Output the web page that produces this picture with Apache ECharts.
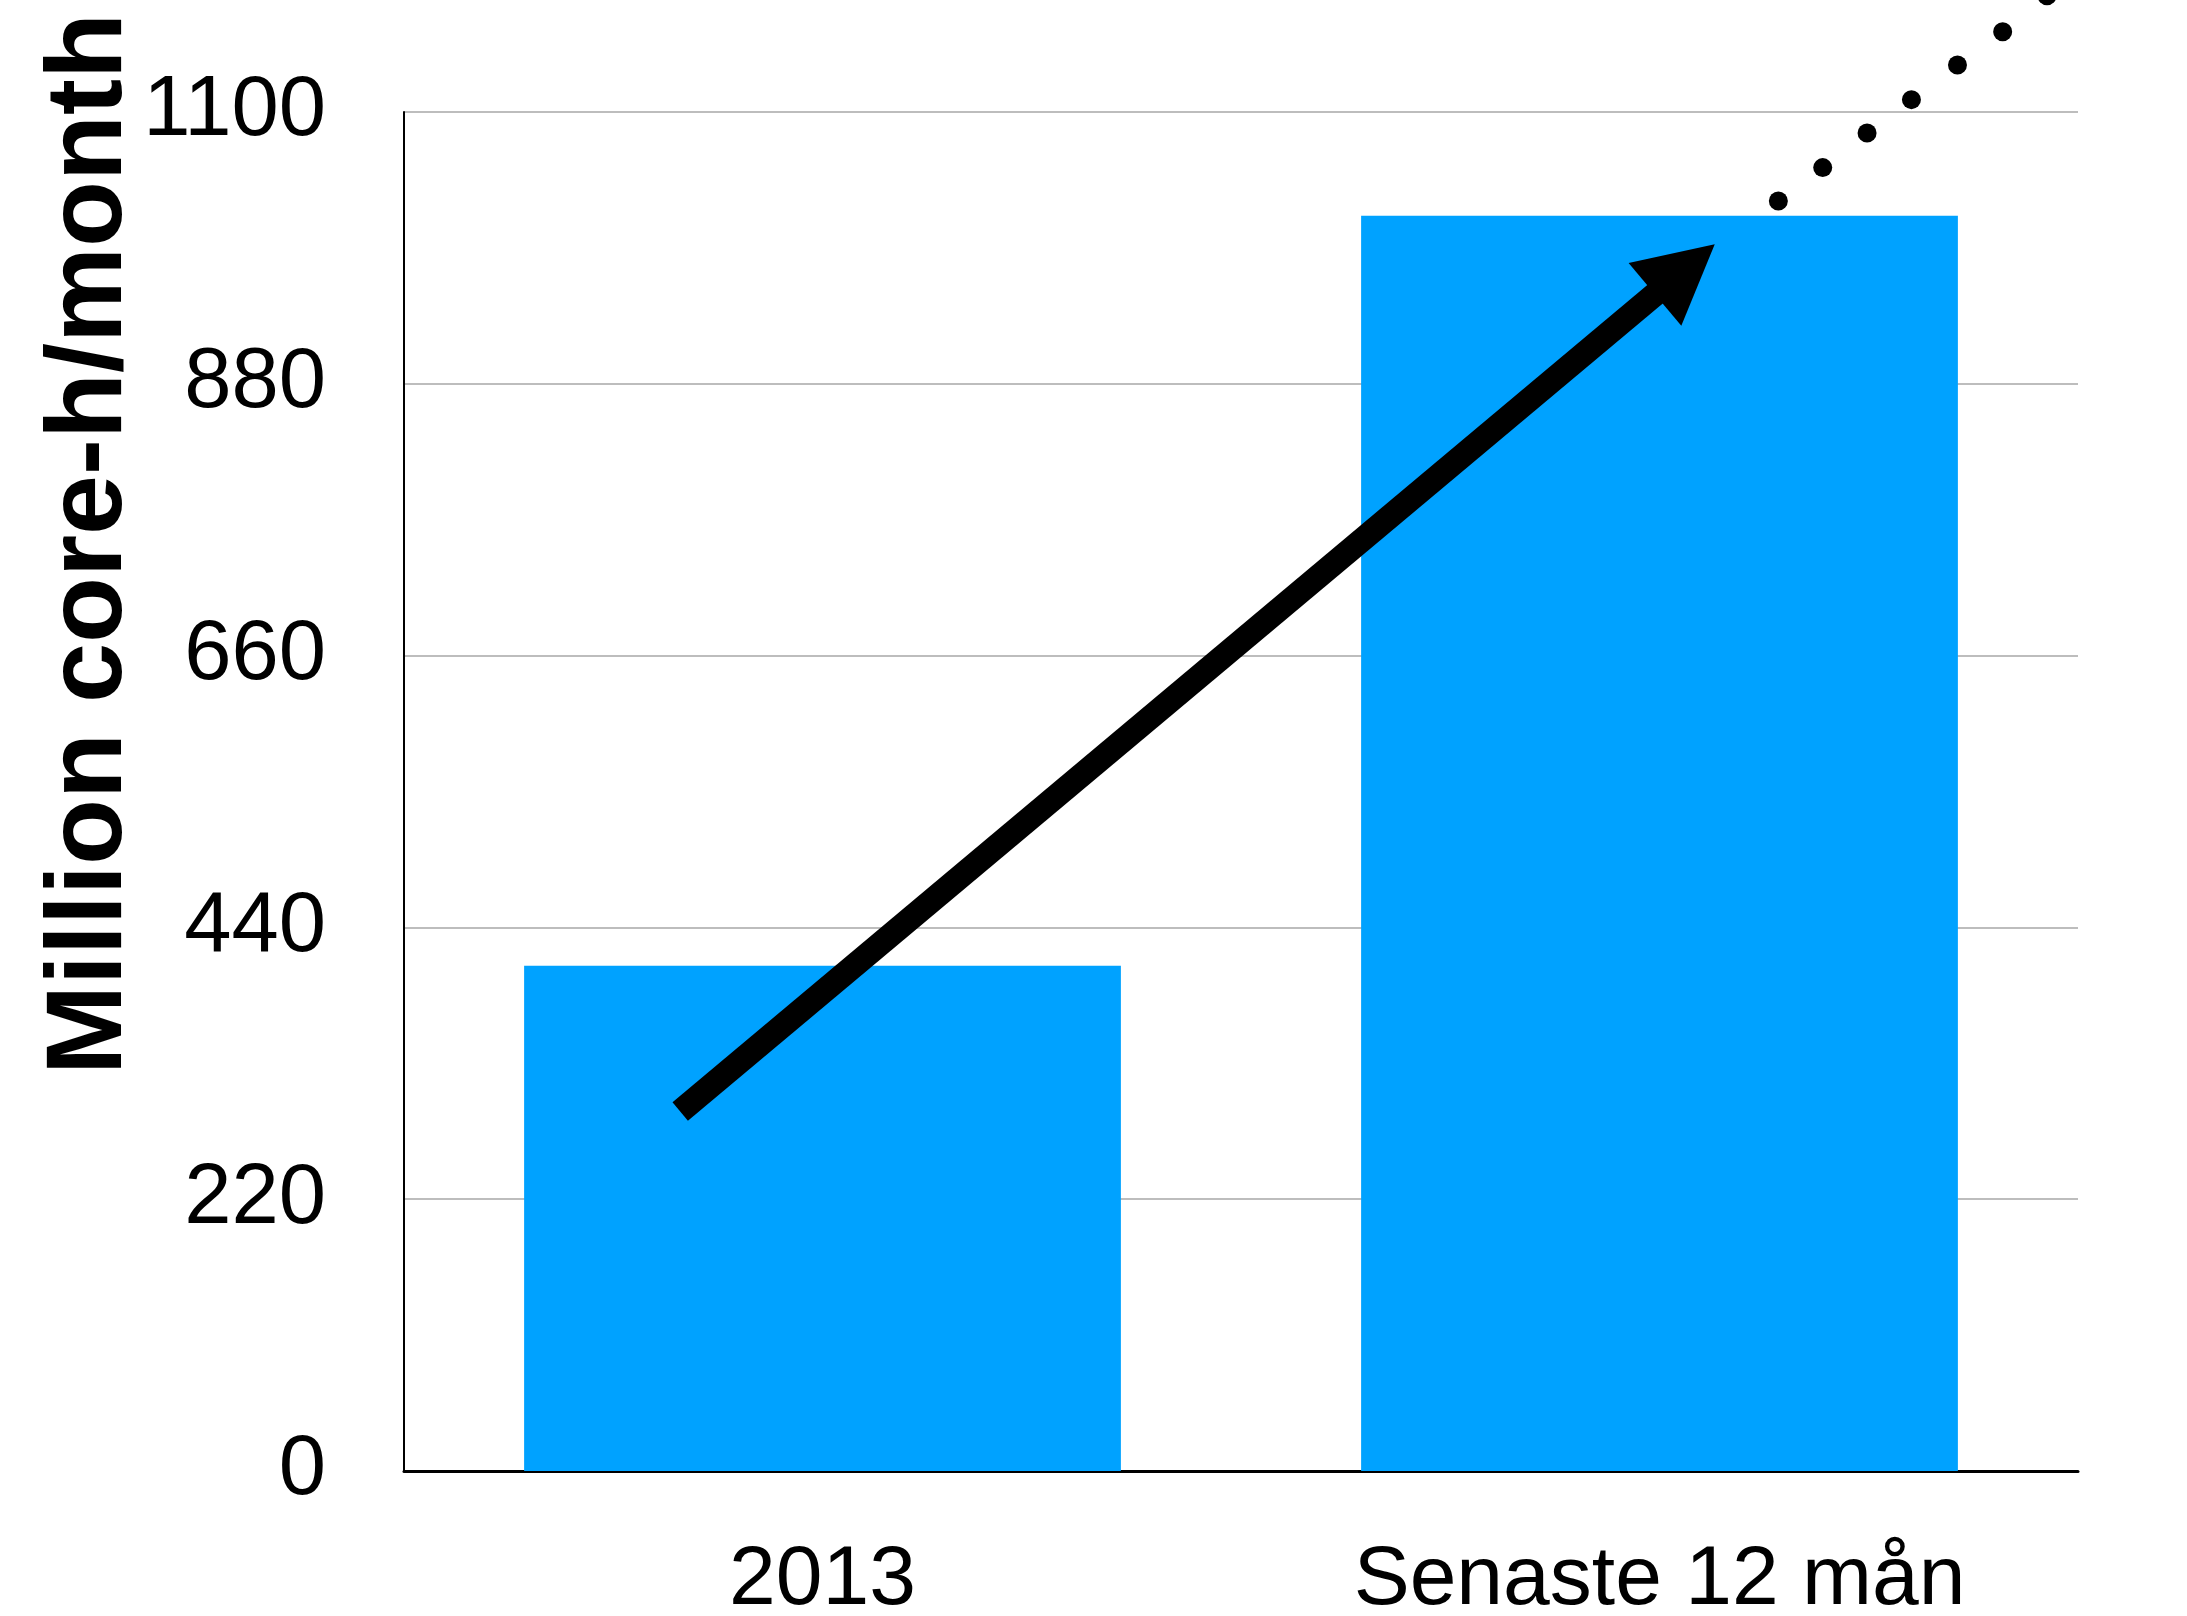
<!DOCTYPE html>
<html>
<head>
<meta charset="utf-8">
<script src="https://cdn.jsdelivr.net/npm/echarts@6/dist/echarts.min.js"></script>
<style>
    html, body { margin: 0; padding: 0; background: #fff; }
    #myChart { width: 2187px; height: 1616px; }
</style>
</head>
<body>
<div id="myChart"></div>
<script>
    // data
    const categories = ['2013', 'Senaste 12 mån'];
    const usage = [409, 1016];
    const yTicks = [0, 220, 440, 660, 880, 1100];
    // trend arrow, start and tip, on a hidden 0..2 x scale
    const arrowStart = [0.33, 291];
    const arrowTip = [1.566, 993];
    // dotted continuation
    const dotsX = [1.642, 1.695, 1.748, 1.801, 1.856, 1.910, 1.963];
    const dotsY = [1028, 1055, 1083, 1110, 1138, 1165, 1194];

    const font = '"Liberation Sans", Helvetica, Arial, sans-serif';
    let myChart = echarts.init(document.getElementById('myChart'));

    const options = {
        animation: false,
        grid: { left: 404, right: 109, top: 112, bottom: 145, outerBoundsMode: 'none' },
        xAxis: [
            {
                type: 'category', data: categories,
                axisLine: { lineStyle: { color: '#000', width: 3 } },
                axisTick: { show: false },
                axisLabel: { color: '#000', fontSize: 84, fontFamily: font, margin: 68 }
            },
            { type: 'value', min: 0, max: 2, show: false }
        ],
        yAxis: {
            type: 'value', min: yTicks[0], max: yTicks[yTicks.length - 1], interval: 220,
            axisLine: { show: true, lineStyle: { color: '#000', width: 2 } },
            axisTick: { show: false },
            axisLabel: {
                color: '#000', fontSize: 85, fontFamily: font, margin: 78,
                formatter: v => String(v)
            },
            splitLine: { lineStyle: { color: '#bdbdbd', width: 2 } }
        },
        graphic: [{
            type: 'text', x: 91, y: 544, rotation: Math.PI / 2,
            style: {
                text: 'Million core-h/month', fill: '#000',
                font: 'bold 108px ' + font,
                textAlign: 'center', textVerticalAlign: 'middle'
            }
        }],
        series: [
            {
                type: 'bar', data: usage, barWidth: '71.3%',
                itemStyle: { color: '#00a2ff' }
            },
            {
                type: 'custom', xAxisIndex: 1, clip: false, z: 5,
                data: [[arrowStart[0], arrowStart[1], arrowTip[0], arrowTip[1]]],
                renderItem: function (params, api) {
                    const p0 = api.coord([api.value(0), api.value(1)]);
                    const p1 = api.coord([api.value(2), api.value(3)]);
                    const dx = p1[0] - p0[0], dy = p1[1] - p0[1];
                    const len = Math.sqrt(dx * dx + dy * dy);
                    const ux = dx / len, uy = dy / len;
                    const headLen = 78, headHalf = 41;
                    const bx = p1[0] - ux * headLen, by = p1[1] - uy * headLen;
                    return {
                        type: 'group',
                        children: [
                            {
                                type: 'line',
                                shape: { x1: p0[0], y1: p0[1], x2: bx + ux * 4, y2: by + uy * 4 },
                                style: { stroke: '#000', lineWidth: 24, lineCap: 'butt' }
                            },
                            {
                                type: 'polygon',
                                shape: { points: [
                                    p1,
                                    [bx - uy * headHalf, by + ux * headHalf],
                                    [bx + uy * headHalf, by - ux * headHalf]
                                ] },
                                style: { fill: '#000' }
                            }
                        ]
                    };
                }
            },
            {
                type: 'scatter', xAxisIndex: 1, clip: false, z: 5,
                symbolSize: 19,
                itemStyle: { color: '#000', opacity: 1 },
                data: dotsX.map((x, i) => [x, dotsY[i]])
            }
        ]
    };
    myChart.setOption(options);
</script>
</body>
</html>
